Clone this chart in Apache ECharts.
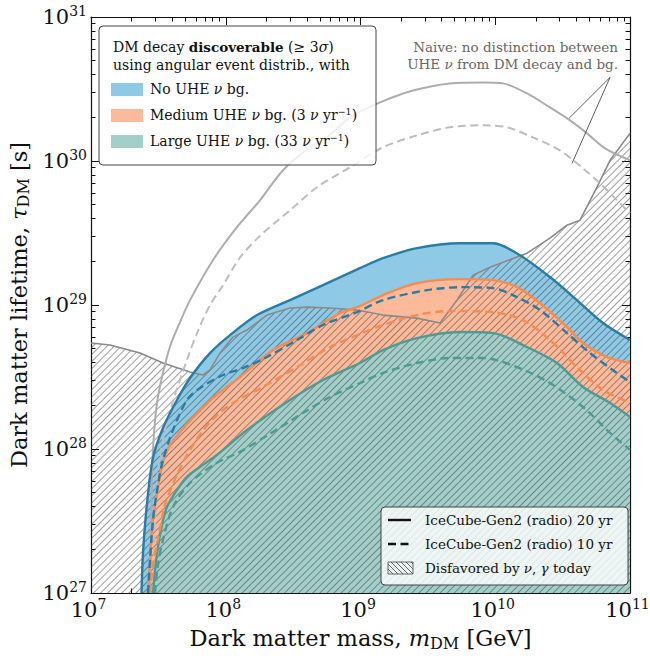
<!DOCTYPE html>
<html><head><meta charset="utf-8">
<script src="https://cdn.jsdelivr.net/npm/echarts@6/dist/echarts.min.js"></script>
<style>html,body{margin:0;padding:0;background:#fff}#c{width:650px;height:656px}</style>
</head><body><div id="c"></div>
<script>
// All points are [log10(m_DM / GeV), log10(tau_DM / s)]
const noBg20 = [[7.375,27.0],[7.386,27.279],[7.416,27.626],[7.460,27.938],[7.534,28.146],[7.638,28.340],[7.735,28.493],[7.883,28.666],[8.032,28.791],[8.232,28.930],[8.477,29.034],[8.722,29.138],[8.996,29.256],[9.167,29.325],[9.419,29.395],[9.738,29.429],[9.983,29.429],[10.183,29.346],[10.406,29.194],[10.606,29.034],[10.800,28.875],[11.0,28.757]];
const noBg10 = [[7.423,27.0],[7.438,27.231],[7.460,27.508],[7.497,27.751],[7.534,27.924],[7.609,28.133],[7.712,28.340],[7.809,28.424],[7.980,28.514],[8.128,28.562],[8.306,28.639],[8.529,28.757],[8.722,28.861],[8.974,28.951],[9.167,29.034],[9.494,29.103],[9.738,29.124],[9.983,29.117],[10.161,29.055],[10.332,28.965],[10.532,28.805],[10.703,28.666],[10.903,28.528],[11.0,28.465]];
const medBg20 = [[7.423,27.0],[7.438,27.231],[7.460,27.508],[7.497,27.730],[7.534,27.911],[7.586,28.028],[7.638,28.091],[7.735,28.195],[7.905,28.354],[8.106,28.500],[8.351,28.687],[8.603,28.805],[8.848,28.944],[8.996,28.992],[9.167,29.069],[9.419,29.152],[9.738,29.180],[9.983,29.173],[10.161,29.124],[10.332,29.013],[10.532,28.847],[10.651,28.736],[10.829,28.639],[11.0,28.597]];
const medBg10 = [[7.438,27.0],[7.460,27.196],[7.497,27.370],[7.549,27.612],[7.638,27.820],[7.735,27.994],[7.883,28.188],[8.054,28.320],[8.276,28.431],[8.529,28.569],[8.774,28.708],[8.996,28.798],[9.167,28.861],[9.419,28.930],[9.664,28.958],[9.983,28.951],[10.206,28.895],[10.406,28.757],[10.606,28.569],[10.800,28.410],[11.0,28.320]];
const largeBg20 = [[7.460,27.0],[7.490,27.279],[7.527,27.474],[7.564,27.598],[7.638,27.716],[7.712,27.807],[7.809,27.876],[7.935,27.959],[8.158,28.132],[8.477,28.340],[8.722,28.479],[8.996,28.597],[9.167,28.687],[9.419,28.770],[9.738,28.812],[9.983,28.805],[10.236,28.708],[10.458,28.597],[10.651,28.431],[10.852,28.320],[11.0,28.223]];
const largeBg10 = [[7.475,27.0],[7.497,27.196],[7.534,27.370],[7.609,27.598],[7.735,27.765],[7.935,27.904],[8.106,27.980],[8.328,28.105],[8.573,28.250],[8.774,28.361],[8.996,28.458],[9.167,28.528],[9.419,28.597],[9.664,28.632],[9.909,28.632],[10.161,28.569],[10.406,28.458],[10.651,28.292],[10.852,28.112],[11.0,27.994]];
const disfavored = [[7.0,28.736],[7.141,28.722],[7.364,28.666],[7.534,28.597],[7.735,28.535],[7.831,28.514],[7.883,28.549],[7.957,28.666],[8.054,28.777],[8.158,28.826],[8.306,28.930],[8.477,28.979],[8.603,28.985],[8.774,28.979],[8.974,28.965],[9.167,28.930],[9.419,28.909],[9.590,28.875],[9.716,29.034],[9.835,29.207],[9.961,29.263],[10.236,29.360],[10.406,29.464],[10.532,29.554],[10.629,29.589],[10.755,29.818],[10.852,30.005],[11.0,30.192]];
const naive20 = [[7.438,27.0],[7.445,27.279],[7.453,27.834],[7.468,28.112],[7.490,28.320],[7.527,28.500],[7.586,28.710],[7.660,28.880],[7.735,29.034],[7.905,29.311],[8.083,29.540],[8.254,29.727],[8.425,29.936],[8.625,30.095],[8.751,30.164],[8.922,30.303],[9.145,30.407],[9.390,30.490],[9.664,30.539],[9.909,30.546],[10.057,30.539],[10.236,30.469],[10.406,30.372],[10.555,30.282],[10.681,30.192],[10.815,30.088],[11.0,30.005]];
const naive10 = [[7.460,27.0],[7.475,27.508],[7.497,27.855],[7.549,28.132],[7.623,28.375],[7.712,28.618],[7.787,28.805],[7.883,28.999],[7.980,29.138],[8.106,29.330],[8.254,29.480],[8.477,29.658],[8.677,29.818],[8.922,29.956],[9.167,30.095],[9.419,30.178],[9.664,30.234],[9.909,30.248],[10.087,30.234],[10.280,30.164],[10.480,30.074],[10.651,29.949],[10.777,29.845],[10.904,29.727],[11.0,29.637]];
const naiveLabelAnchor = [10.852, 30.581];
const naivePointers = [[10.547, 30.296], [10.570, 29.984]];
const xTickExponents = [7, 8, 9, 10, 11];
const yTickExponents = [27, 28, 29, 30, 31];

const FONT = 'DejaVu Serif';
const C = {
  blueFill: '#8ecae6', blueLine: '#2a7ca6',
  orangeFill: '#fdba9b', orangeLine: '#f98a50',
  tealFill: '#a3cfcb', tealLine: '#4f9a93'
};
const xMin = xTickExponents[0], xMax = xTickExponents[xTickExponents.length - 1];
const yMin = yTickExponents[0], yMax = yTickExponents[yTickExponents.length - 1];
function minorTicks(lo, hi) {
  const out = [];
  for (let n = lo; n < hi; n++) for (let k = 2; k <= 9; k++) out.push(n + Math.log10(k));
  return out;
}
const xMinor = minorTicks(xMin, xMax), yMinor = minorTicks(yMin, yMax);

const tickRich = {
  b: { fontFamily: FONT, fontSize: 21, lineHeight: 26, color: '#111' },
  s: { fontFamily: FONT, fontSize: 14, lineHeight: 14, verticalAlign: 'top', color: '#111' }
};
function baseAxis(pos, isX, major, labels) {
  const a = {
    type: 'value', position: pos, min: isX ? xMin : yMin, max: isX ? xMax : yMax,
    interval: 1, splitLine: { show: false },
    axisLine: { show: major, onZero: false, lineStyle: { color: '#111', width: 1.2 } },
    axisTick: { show: true, inside: true, length: major ? 8 : 4.5, lineStyle: { color: '#111', width: 1 } },
    axisLabel: { show: false }
  };
  if (!major) a.axisTick.customValues = isX ? xMinor : yMinor;
  if (labels) {
    a.axisLabel = {
      show: true, margin: 4,
      padding: isX ? [0, 5, 0, 0] : 0,
      formatter: v => '{b|10}{s|' + v + '}', rich: tickRich
    };
  }
  return a;
}
const xAxes = [baseAxis('bottom', true, true, true), baseAxis('bottom', true, false, false),
               baseAxis('top', true, true, false), baseAxis('top', true, false, false)];
const yAxes = [baseAxis('left', false, true, true), baseAxis('left', false, false, false),
               baseAxis('right', false, true, false), baseAxis('right', false, false, false)];
const nameRich = {
  n: { fontFamily: FONT, fontSize: 22.5, lineHeight: 26, color: '#111' },
  i: { fontFamily: FONT, fontSize: 22.5, lineHeight: 26, fontStyle: 'italic', color: '#111' },
  sub: { fontFamily: FONT, fontSize: 16, lineHeight: 14, verticalAlign: 'bottom', color: '#111' }
};
xAxes[0].name = '{n|Dark matter mass, }{i|m}{sub|DM}{n| [GeV]}';
xAxes[0].nameLocation = 'middle'; xAxes[0].nameGap = 32;
xAxes[0].nameTextStyle = { rich: nameRich };
yAxes[0].name = '{n|Dark matter lifetime, }{i|τ}{sub|DM}{n| [s]}';
yAxes[0].nameLocation = 'middle'; yAxes[0].nameGap = 45;
yAxes[0].nameTextStyle = { rich: nameRich };

const SM = 0.3;
function fill(data, color) {
  return { type: 'line', data, showSymbol: false, silent: true, smooth: SM,
    lineStyle: { opacity: 0 }, areaStyle: { color, opacity: 1, origin: 'start' } };
}
function curve(data, color, dashed, width, smooth) {
  return { type: 'line', data, showSymbol: false, silent: true, smooth: smooth === undefined ? SM : smooth,
    lineStyle: { color, width: width || 2.4, type: dashed ? [8, 4.5] : 'solid' } };
}
const series = [
  fill(noBg20, C.blueFill), fill(medBg20, C.orangeFill), fill(largeBg20, C.tealFill),
  { type: 'line', data: disfavored, showSymbol: false, silent: true,
    lineStyle: { color: '#8a8a8a', width: 1.6 },
    areaStyle: { color: 'rgba(0,0,0,0)', opacity: 1, origin: 'start' },
    itemStyle: { decal: { symbol: 'rect', symbolSize: 1, color: 'rgba(60,60,60,0.5)',
      dashArrayX: [1, 0], dashArrayY: [1, 4], rotation: -Math.PI / 4 } } },
  curve(naive20, '#adadad', false, 2), curve(naive10, '#bdbdbd', true, 2),
  curve(largeBg10, C.tealLine, true), curve(largeBg20, C.tealLine, false),
  curve(medBg10, C.orangeLine, true), curve(medBg20, C.orangeLine, false),
  curve(noBg10, C.blueLine, true), curve(noBg20, C.blueLine, false),
  curve([naiveLabelAnchor, naivePointers[0]], '#333', false, 0.8, false),
  curve([naiveLabelAnchor, naivePointers[1]], '#333', false, 0.8, false)
];

function hatchPatch(x0, y0, w, h, step) {
  const out = [];
  for (let a = x0 - h; a < x0 + w; a += step) {
    let xs = a, ys = y0, xe = a + h, ye = y0 + h;
    if (xs < x0) { ys += x0 - xs; xs = x0; }
    if (xe > x0 + w) { ye -= xe - (x0 + w); xe = x0 + w; }
    if (xe > xs) out.push({ type: 'line', shape: { x1: xs, y1: ys, x2: xe, y2: ye }, style: { stroke: '#444', lineWidth: 0.8 }, z: 101 });
  }
  out.push({ type: 'rect', shape: { x: x0, y: y0, width: w, height: h }, style: { fill: 'none', stroke: '#444', lineWidth: 0.8 }, z: 101 });
  return out;
}
function legendRich(fs) {
  return {
    n: { fontFamily: FONT, fontSize: fs, lineHeight: 18, color: '#111' },
    b: { fontFamily: FONT, fontSize: 13.5, lineHeight: 18, fontWeight: 'bold', color: '#111' },
    i: { fontFamily: FONT, fontSize: fs, lineHeight: 18, fontStyle: 'italic', color: '#111' },
    sup: { fontFamily: FONT, fontSize: 9.5, lineHeight: 10, verticalAlign: 'top', color: '#111' }
  };
}
const lr1 = legendRich(14), lr2 = legendRich(13.5);
function txt(x, y, text, rich) {
  return { type: 'text', x, y, z: 102,
    style: { text, rich: rich, align: 'left', verticalAlign: 'middle', fill: '#111', fontFamily: FONT, fontSize: 14 } };
}
const graphic = [
  { type: 'rect', z: 100, shape: { x: 99, y: 26, width: 277, height: 139, r: 4 },
    style: { fill: 'rgba(255,255,255,0.8)', stroke: '#444', lineWidth: 1 } },
  txt(113, 47, '{n|DM decay }{b|discoverable}{n| (≥ 3}{i|σ}{n|)}', lr1),
  txt(113, 65, '{n|using angular event distrib., with}', lr1),
  { type: 'rect', z: 101, shape: { x: 111, y: 83, width: 32, height: 13 }, style: { fill: C.blueFill } },
  { type: 'rect', z: 101, shape: { x: 111, y: 109, width: 32, height: 13 }, style: { fill: C.orangeFill } },
  { type: 'rect', z: 101, shape: { x: 111, y: 135, width: 32, height: 13 }, style: { fill: C.tealFill } },
  txt(150, 89, '{n|No UHE }{i|ν}{n| bg.}', lr1),
  txt(150, 115, '{n|Medium UHE }{i|ν}{n| bg. (3 }{i|ν}{n| yr}{sup|−1}{n|)}', lr1),
  txt(150, 141, '{n|Large UHE }{i|ν}{n| bg. (33 }{i|ν}{n| yr}{sup|−1}{n|)}', lr1),
  { type: 'rect', z: 100, shape: { x: 381, y: 507, width: 247, height: 78, r: 4 },
    style: { fill: 'rgba(255,255,255,0.8)', stroke: '#444', lineWidth: 1 } },
  { type: 'line', z: 101, shape: { x1: 388, y1: 520, x2: 411, y2: 520 }, style: { stroke: '#111', lineWidth: 2.4 } },
  { type: 'line', z: 101, shape: { x1: 388, y1: 544, x2: 411, y2: 544 }, style: { stroke: '#111', lineWidth: 2.4, lineDash: [8, 4.5] } },
  ...hatchPatch(388, 562, 25, 12, 5),
  txt(425, 520, '{n|IceCube-Gen2 (radio) 20 yr}', lr2),
  txt(425, 544, '{n|IceCube-Gen2 (radio) 10 yr}', lr2),
  txt(425, 568, '{n|Disfavored by }{i|ν}{n|, }{i|γ}{n| today}', lr2),
  { type: 'text', z: 102, x: 618, y: 47, style: { text: 'Naive: no distinction between', align: 'right', verticalAlign: 'middle', fill: '#666', fontFamily: FONT, fontSize: 13.5 } },
  { type: 'text', z: 102, x: 618, y: 64, style: { text: '{g|UHE }{gi|ν}{g| from DM decay and bg.}', rich: {
      g: { fontFamily: FONT, fontSize: 13.5, color: '#666' }, gi: { fontFamily: FONT, fontSize: 13.5, fontStyle: 'italic', color: '#666' } },
      align: 'right', verticalAlign: 'middle', fill: '#666' } }
];

const chart = echarts.init(document.getElementById('c'), null, { renderer: 'svg', width: 650, height: 656 });
chart.setOption({
  animation: false,
  backgroundColor: '#fff',
  grid: { left: 91, top: 17, width: 539, height: 576, containLabel: false, outerBoundsMode: 'none' },
  xAxis: xAxes, yAxis: yAxes,
  series, graphic
});
</script></body></html>
